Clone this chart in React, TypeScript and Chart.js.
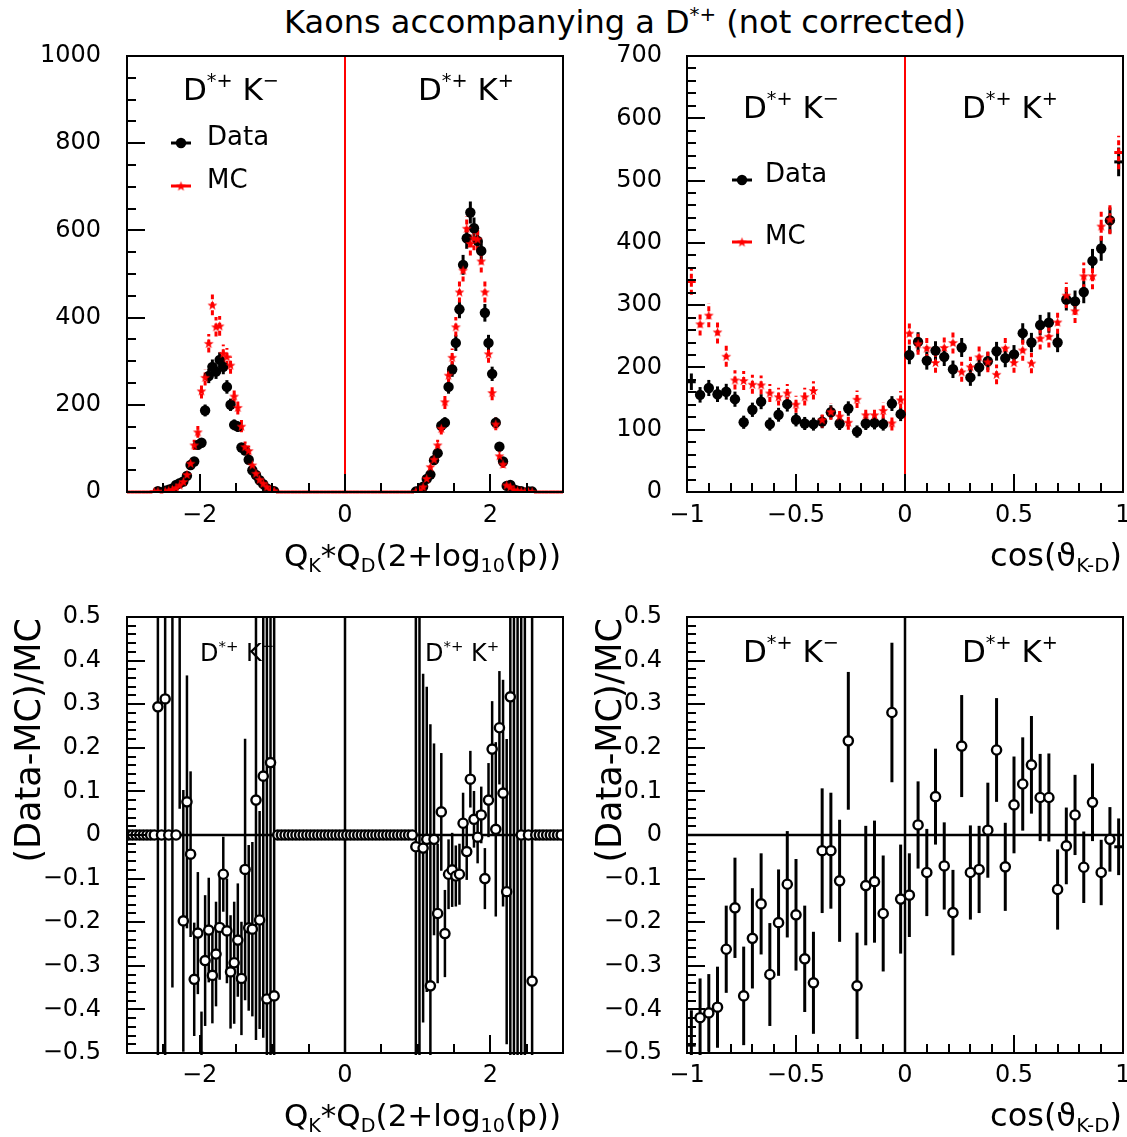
import React, { useEffect, useRef } from "react";
import { Chart, registerables } from "chart.js";

Chart.register(...registerables);

const FONT = "'DejaVu Sans', 'Liberation Sans', sans-serif";
const RED = "#ff0000";

// ---------- binning ----------
const qLow = -3;
const qWidth = 0.05; // 120 bins in Q_K*Q_D(2+log10(p))
const cosLow = -1;
const cosWidth = 0.04; // 50 bins in cos(theta_K-D)

// ---------- top-left : Q_K*Q_D(2+log10 p) ----------
const qData = [
  0, 0, 0, 0, 0, 0, 0, 0, 2, 0,
  3, 5, 8, 16, 20, 24, 37, 62, 70, 108,
  113, 187, 266, 287, 276, 303, 287, 241, 200, 154,
  150, 102, 95, 74, 50, 39, 27, 18, 8, 4,
  2, 0, 0, 0, 0, 0, 0, 0, 0, 0,
  0, 0, 0, 0, 0, 0, 0, 0, 0, 0,
  0, 0, 0, 0, 0, 0, 0, 0, 0, 0,
  0, 0, 0, 0, 0, 0, 0, 0, 0, 1,
  3, 12, 30, 40, 73, 89, 152, 159, 241, 281,
  342, 419, 521, 582, 641, 605, 576, 553, 411, 342,
  271, 159, 104, 70, 14, 16, 6, 3, 2, 0,
  1, 1, 0, 0, 0, 0, 0, 0, 0, 0,
];
const qMC = [
  0, 0, 0, 0, 0, 0, 0, 1, 2, 0,
  2, 4, 6, 10, 16, 24, 40, 66, 108, 138,
  232, 263, 341, 429, 379, 381, 318, 310, 291, 220,
  194, 151, 104, 95, 62, 43, 29, 20, 12, 5,
  3, 0, 0, 0, 0, 0, 0, 0, 0, 0,
  0, 0, 0, 0, 0, 0, 0, 0, 0, 0,
  0, 0, 0, 0, 0, 0, 0, 0, 0, 0,
  0, 0, 0, 0, 0, 0, 0, 0, 0, 1,
  4, 12, 31, 58, 75, 108, 146, 207, 268, 309,
  379, 459, 509, 605, 570, 582, 580, 530, 459, 317,
  228, 156, 83, 64, 16, 12, 5, 3, 2, 1,
  1, 1, 0, 0, 0, 0, 0, 0, 0, 0,
];
// ---------- bottom-left : (Data-MC)/MC vs Q ----------
const qRatio = [
  0, 0, 0, 0, 0, 0, 0, 0, 0.294, 0,
  0.312, 0, 0.8, 0, 0.7, -0.197, 0.076, -0.044, -0.331, -0.225,
  -0.51, -0.288, -0.218, -0.322, -0.273, -0.212, -0.09, -0.22, -0.314, -0.293,
  -0.241, -0.329, -0.079, -0.213, -0.216, 0.08, -0.195, 0.135, -0.376, 0.166,
  -0.369, 0, 0, 0, 0, 0, 0, 0, 0, 0,
  0, 0, 0, 0, 0, 0, 0, 0, 0, 0,
  0, 0, 0, 0, 0, 0, 0, 0, 0, 0,
  0, 0, 0, 0, 0, 0, 0, 0, 0, -0.027,
  0.6, -0.03, -0.01, -0.346, -0.01, -0.18, 0.053, -0.226, -0.09, -0.08,
  -0.094, -0.09, 0.027, -0.038, 0.128, 0.036, -0.005, 0.046, -0.1, 0.08,
  0.197, 0.013, 0.246, 0.096, -0.13, 0.317, 0.9, -0.7, 0, 1.0,
  0, -0.335, 0, 0, 0, 0, 0, 0, 0, 0,
];
const qRatioErr = [
  0, 0, 0, 0, 0, 0, 0, 0, 1.5, 0,
  1.5, 0, 1.15, 0, 0.64, 0.3, 0.29, 0.19, 0.13, 0.14,
  0.105, 0.15, 0.12, 0.11, 0.12, 0.12, 0.086, 0.12, 0.13, 0.14,
  0.13, 0.13, 0.3, 0.19, 0.2, 0.55, 0.25, 0.6, 1.0, 0.9,
  1.2, 0, 0, 0, 0, 0, 0, 0, 0, 0,
  0, 0, 0, 0, 0, 0, 0, 0, 0, 0,
  0, 0, 0, 0, 0, 0, 0, 0, 0, 0,
  0, 0, 0, 0, 0, 0, 0, 0, 0, 1.5,
  1.2, 0.4, 0.35, 0.6, 0.22, 0.16, 0.135, 0.1, 0.08, 0.085,
  0.07, 0.07, 0.07, 0.065, 0.065, 0.065, 0.06, 0.065, 0.07, 0.085,
  0.11, 0.2, 0.13, 0.26, 0.35, 0.9, 1.5, 1.3, 0.55, 1.6,
  0, 1.0, 0, 0, 0, 0, 0, 0, 0, 0,
];

// ---------- top-right : cos(theta_K-D) ----------
const cosData = [
  177, 156, 167, 157, 161, 149, 112, 132, 145, 109,
  124, 141, 116, 110, 109, 113, 128, 110, 134, 97,
  110, 111, 109, 142, 125, 220, 241, 211, 227, 217,
  197, 232, 184, 200, 210, 226, 215, 221, 255, 240,
  268, 272, 240, 309, 306, 321, 371, 391, 436, 530,
];
const cosMC = [
  338, 270, 284, 257, 218, 180, 179, 173, 172, 159,
  153, 159, 141, 153, 163, 116, 129, 122, 112, 149,
  124, 124, 131, 111, 148, 255, 238, 231, 208, 232,
  240, 193, 201, 217, 209, 189, 231, 208, 228, 207,
  247, 250, 273, 316, 291, 347, 347, 427, 438, 545,
];
// ---------- bottom-right : (Data-MC)/MC vs cos ----------
const cosRatio = [
  -0.482, -0.419, -0.408, -0.395, -0.262, -0.167, -0.369, -0.237, -0.158, -0.32,
  -0.201, -0.113, -0.183, -0.284, -0.339, -0.036, -0.036, -0.105, 0.216, -0.346,
  -0.116, -0.107, -0.18, 0.281, -0.147, -0.138, 0.023, -0.086, 0.088, -0.071,
  -0.178, 0.204, -0.086, -0.079, 0.011, 0.195, -0.073, 0.069, 0.117, 0.161,
  0.086, 0.086, -0.125, -0.025, 0.046, -0.074, 0.075, -0.086, -0.01, -0.027,
];
const cosRatioErr = [
  0.08, 0.09, 0.089, 0.093, 0.1, 0.115, 0.113, 0.115, 0.116, 0.118,
  0.122, 0.122, 0.128, 0.122, 0.117, 0.143, 0.133, 0.14, 0.158, 0.122,
  0.137, 0.14, 0.133, 0.16, 0.125, 0.096, 0.1, 0.1, 0.11, 0.1,
  0.098, 0.117, 0.108, 0.1, 0.109, 0.119, 0.101, 0.111, 0.107, 0.112,
  0.1, 0.101, 0.092, 0.088, 0.092, 0.082, 0.089, 0.075, 0.074, 0.065,
];

// MC statistical errors are a little larger than Poisson (weighted MC)
const mcErrScale = 1.15;

// ---------- tick labels ----------
const qTickLabels = [-2, 0, 2];
const cosTickLabels = [-1, -0.5, 0, 0.5, 1];
const countTickLabelsQ = [0, 200, 400, 600, 800, 1000];
const countTickLabelsCos = [0, 100, 200, 300, 400, 500, 600, 700];
const ratioTickLabels = [-0.5, -0.4, -0.3, -0.2, -0.1, 0, 0.1, 0.2, 0.3, 0.4, 0.5];

const rnd = (v: number) => Math.round(v * 1e6) / 1e6;
const qCenter = (i: number) => rnd(qLow + qWidth * (i + 0.5));
const cosCenter = (i: number) => rnd(cosLow + cosWidth * (i + 0.5));
const fmt = (v: number) => {
  const r = Math.round(v * 1000) / 1000;
  if (r === 0) return "0";
  return (r < 0 ? "\u2212" : "") + String(Math.abs(r));
};

type Part = { t: string; s?: "sup" | "sub" };

function richWidth(ctx: CanvasRenderingContext2D, parts: Part[], size: number) {
  let w = 0;
  for (const p of parts) {
    const fs = p.s ? size * 0.62 : size;
    ctx.font = `${fs}px ${FONT}`;
    w += ctx.measureText(p.t).width;
  }
  return w;
}
function drawRich(ctx: CanvasRenderingContext2D, parts: Part[], x: number, y: number, size: number, align: string) {
  const w = richWidth(ctx, parts, size);
  let cx = align === "right" ? x - w : align === "center" ? x - w / 2 : x;
  ctx.textBaseline = "alphabetic";
  ctx.textAlign = "left";
  for (const p of parts) {
    const fs = p.s ? size * 0.62 : size;
    ctx.font = `${fs}px ${FONT}`;
    const dy = p.s === "sup" ? -size * 0.42 : p.s === "sub" ? size * 0.2 : 0;
    ctx.fillText(p.t, cx, y + dy);
    cx += ctx.measureText(p.t).width;
  }
}

function starCanvas(outer: number, inner: number, color: string) {
  const s = Math.ceil(outer * 2 + 2);
  const c = document.createElement("canvas");
  c.width = s;
  c.height = s;
  const g = c.getContext("2d")!;
  g.fillStyle = color;
  g.beginPath();
  for (let k = 0; k < 10; k++) {
    const r = k % 2 === 0 ? outer : inner;
    const a = -Math.PI / 2 + (k * Math.PI) / 5;
    const px = s / 2 + r * Math.cos(a);
    const py = s / 2 + r * Math.sin(a) + 0.5;
    if (k === 0) g.moveTo(px, py);
    else g.lineTo(px, py);
  }
  g.closePath();
  g.fill();
  return c;
}

const DKm: Part[] = [{ t: "D" }, { t: "*+", s: "sup" }, { t: " K" }, { t: "\u2212", s: "sup" }];
const DKp: Part[] = [{ t: "D" }, { t: "*+", s: "sup" }, { t: " K" }, { t: "+", s: "sup" }];
const qTitle: Part[] = [
  { t: "Q" }, { t: "K", s: "sub" }, { t: "*Q" }, { t: "D", s: "sub" },
  { t: "(2+log" }, { t: "10", s: "sub" }, { t: "(p))" },
];
const cosTitle: Part[] = [{ t: "cos(\u03d1" }, { t: "K-D", s: "sub" }, { t: ")" }];
const ratioTitle: Part[] = [{ t: "(Data-MC)/MC" }];

type TextItem = { parts: Part[]; x: number; y: number; size: number; align: string; rot?: boolean };

function buildPanels(star: HTMLCanvasElement) {
  const qMCPoints = qMC.map((v, i) => ({
    x: qCenter(i), y: v, e: v > 0 ? mcErrScale * Math.sqrt(v) : 0, h: v === 0 ? qWidth / 2 : 0,
  }));
  const qDataPoints = qData
    .map((v, i) => ({ x: qCenter(i), y: v, e: Math.sqrt(v), h: 0 }))
    .filter((p) => p.y > 0);
  const cosEdge = (i: number) => i === 0 || i === cosMC.length - 1;
  const cosMCPoints = cosMC.map((v, i) => ({
    x: cosCenter(i), y: v, e: mcErrScale * Math.sqrt(v), h: cosEdge(i) ? cosWidth / 2 : 0,
  }));
  const cosDataPoints = cosData.map((v, i) => ({
    x: cosCenter(i), y: v, e: Math.sqrt(v), h: cosEdge(i) ? cosWidth / 2 : 0,
  }));
  const qRatioPoints = qRatio.map((v, i) => ({ x: qCenter(i), y: v, e: qRatioErr[i], h: 0 }));
  const cosRatioPoints = cosRatio.map((v, i) => ({
    x: cosCenter(i), y: v, e: cosRatioErr[i], h: cosEdge(i) ? cosWidth / 2 : 0,
  }));

  const mcDs = (data: any[]) => ({
    label: "MC",
    data,
    order: 0,
    pointStyle: star,
    pointRadius: (c: any) => (c.raw && c.raw.y !== 0 && c.raw.h === 0 ? 5 : 0),
    backgroundColor: RED,
    borderColor: RED,
    errColor: RED,
    errWidth: 3,
    errDash: [5, 3],
  });
  const dataDs = (data: any[]) => ({
    label: "Data",
    data,
    order: 1,
    pointStyle: "circle",
    pointRadius: (c: any) => (c.raw && c.raw.h === 0 ? 5.2 : 0),
    pointBackgroundColor: "#000",
    pointBorderColor: "#000",
    pointBorderWidth: 0,
    errColor: "#000",
    errWidth: 3,
    errDash: [],
  });
  const ratioDs = (data: any[], w: number) => ({
    label: "ratio",
    data,
    order: 0,
    clip: 0,
    pointStyle: "circle",
    pointRadius: (c: any) => (c.raw && c.raw.h === 0 ? 4.6 : 0),
    pointBackgroundColor: "#fff",
    pointBorderColor: "#000",
    pointBorderWidth: 2.4,
    errColor: "#000",
    errWidth: w,
    errDash: [],
  });

  return [
    {
      name: "tl", cx: 0, cy: 0, cw: 566, ch: 600,
      area: { l: 127, t: 56, r: 563, b: 492 },
      xr: [-3, 3], yr: [0, 1000],
      xLabels: qTickLabels, yLabels: countTickLabelsQ, xMinor: 0.5, yMinor: 50,
      xPad: 9, yPad: 26,
      zeroV: RED, zeroVW: 2, zeroH: null,
      datasets: [mcDs(qMCPoints), dataDs(qDataPoints)],
      texts: [
        { parts: DKm, x: 183, y: 100, size: 31, align: "left" },
        { parts: DKp, x: 418, y: 100, size: 31, align: "left" },
        { parts: [{ t: "Data" }], x: 207, y: 145, size: 26, align: "left" },
        { parts: [{ t: "MC" }], x: 207, y: 188, size: 26, align: "left" },
        { parts: qTitle, x: 561, y: 566, size: 31, align: "right" },
      ] as TextItem[],
      legend: [
        { kind: "circle", x: 181, y: 143 },
        { kind: "star", x: 181, y: 186 },
      ],
    },
    {
      name: "tr", cx: 566, cy: 0, cw: 561, ch: 600,
      area: { l: 687, t: 56, r: 1123, b: 492 },
      xr: [-1, 1], yr: [0, 700],
      xLabels: cosTickLabels, yLabels: countTickLabelsCos, xMinor: 0.1, yMinor: 20,
      xPad: 9, yPad: 25,
      zeroV: RED, zeroVW: 2, zeroH: null,
      datasets: [mcDs(cosMCPoints), dataDs(cosDataPoints)],
      texts: [
        { parts: DKm, x: 743, y: 118, size: 31, align: "left" },
        { parts: DKp, x: 962, y: 118, size: 31, align: "left" },
        { parts: [{ t: "Data" }], x: 765, y: 182, size: 26, align: "left" },
        { parts: [{ t: "MC" }], x: 765, y: 244, size: 26, align: "left" },
        { parts: cosTitle, x: 1122, y: 566, size: 32, align: "right" },
      ] as TextItem[],
      legend: [
        { kind: "circle", x: 742, y: 180 },
        { kind: "star", x: 742, y: 242 },
      ],
    },
    {
      name: "bl", cx: 0, cy: 600, cw: 566, ch: 537,
      area: { l: 127, t: 617, r: 563, b: 1053 },
      xr: [-3, 3], yr: [-0.5, 0.5],
      xLabels: qTickLabels, yLabels: ratioTickLabels, xMinor: 0.5, yMinor: 0.02,
      xPad: 8, yPad: 26,
      zeroV: "#000", zeroVW: 2.5, zeroH: "#000",
      datasets: [ratioDs(qRatioPoints, 2.5)],
      texts: [
        { parts: DKm, x: 200, y: 661, size: 24, align: "left" },
        { parts: DKp, x: 425, y: 661, size: 24, align: "left" },
        { parts: qTitle, x: 561, y: 1126, size: 31, align: "right" },
        { parts: ratioTitle, x: 40, y: 618, size: 35, align: "right", rot: true },
      ] as TextItem[],
      legend: [],
    },
    {
      name: "br", cx: 566, cy: 600, cw: 561, ch: 537,
      area: { l: 687, t: 617, r: 1123, b: 1053 },
      xr: [-1, 1], yr: [-0.5, 0.5],
      xLabels: cosTickLabels, yLabels: ratioTickLabels, xMinor: 0.1, yMinor: 0.02,
      xPad: 8, yPad: 25,
      zeroV: "#000", zeroVW: 2.5, zeroH: "#000",
      datasets: [ratioDs(cosRatioPoints, 3)],
      texts: [
        { parts: DKm, x: 743, y: 662, size: 31, align: "left" },
        { parts: DKp, x: 962, y: 662, size: 31, align: "left" },
        { parts: cosTitle, x: 1122, y: 1126, size: 32, align: "right" },
        { parts: ratioTitle, x: 621, y: 618, size: 35, align: "right", rot: true },
      ] as TextItem[],
      legend: [],
    },
  ];
}

function decorPlugin(p: any, star: HTMLCanvasElement) {
  return {
    id: "decor_" + p.name,
    beforeDatasetsDraw(chart: any) {
      const ctx: CanvasRenderingContext2D = chart.ctx;
      const a = chart.chartArea;
      const xs = chart.scales.x;
      const ys = chart.scales.y;
      ctx.save();
      ctx.beginPath();
      ctx.rect(a.left, a.top, a.right - a.left, a.bottom - a.top + 2);
      ctx.clip();
      ctx.setLineDash([]);
      if (p.zeroH) {
        const py = Math.round(ys.getPixelForValue(0));
        ctx.strokeStyle = p.zeroH;
        ctx.lineWidth = 2.5;
        ctx.beginPath();
        ctx.moveTo(a.left, py);
        ctx.lineTo(a.right, py);
        ctx.stroke();
      }
      if (p.zeroV) {
        const px = Math.round(xs.getPixelForValue(0));
        ctx.strokeStyle = p.zeroV;
        ctx.lineWidth = p.zeroVW;
        ctx.beginPath();
        ctx.moveTo(px, a.top);
        ctx.lineTo(px, a.bottom);
        ctx.stroke();
      }
      const order = chart.data.datasets.map((_: any, i: number) => i).reverse();
      for (const di of order) {
        const ds = chart.data.datasets[di];
        ctx.strokeStyle = ds.errColor;
        ctx.lineWidth = ds.errWidth;
        for (const pt of ds.data) {
          const px = xs.getPixelForValue(pt.x);
          if (pt.e > 0) {
            ctx.setLineDash(ds.errDash);
            ctx.beginPath();
            ctx.moveTo(px, ys.getPixelForValue(pt.y - pt.e));
            ctx.lineTo(px, ys.getPixelForValue(pt.y + pt.e));
            ctx.stroke();
          }
          if (pt.h > 0) {
            ctx.setLineDash([]);
            const py = ys.getPixelForValue(pt.y);
            ctx.beginPath();
            ctx.moveTo(xs.getPixelForValue(pt.x - pt.h), py);
            ctx.lineTo(xs.getPixelForValue(pt.x + pt.h), py);
            ctx.stroke();
          }
        }
      }
      ctx.restore();
    },
    afterDatasetsDraw(chart: any) {
      const ctx: CanvasRenderingContext2D = chart.ctx;
      const a = chart.chartArea;
      const xs = chart.scales.x;
      const ys = chart.scales.y;
      ctx.save();
      ctx.setLineDash([]);
      ctx.strokeStyle = "#000";
      ctx.lineWidth = 2;
      ctx.strokeRect(a.left, a.top, a.right - a.left, a.bottom - a.top);
      const nx = Math.round((p.xr[1] - p.xr[0]) / p.xMinor);
      for (let k = 0; k <= nx; k++) {
        const v = rnd(p.xr[0] + k * p.xMinor);
        const major = p.xLabels.some((m: number) => Math.abs(m - v) < 1e-6);
        const len = major ? 18 : 9;
        const px = Math.round(xs.getPixelForValue(v));
        ctx.beginPath();
        ctx.moveTo(px, a.bottom);
        ctx.lineTo(px, a.bottom - len);
        ctx.stroke();
      }
      const ny = Math.round((p.yr[1] - p.yr[0]) / p.yMinor);
      for (let k = 0; k <= ny; k++) {
        const v = rnd(p.yr[0] + k * p.yMinor);
        const major = p.yLabels.some((m: number) => Math.abs(m - v) < 1e-6);
        const len = major ? 18 : 9;
        const py = Math.round(ys.getPixelForValue(v));
        ctx.beginPath();
        ctx.moveTo(a.left, py);
        ctx.lineTo(a.left + len, py);
        ctx.stroke();
      }
      for (const L of p.legend) {
        const x = L.x - p.cx;
        const y = L.y - p.cy;
        ctx.lineWidth = 3;
        ctx.strokeStyle = L.kind === "star" ? RED : "#000";
        ctx.beginPath();
        ctx.moveTo(x - 10, y);
        ctx.lineTo(x + 10, y);
        ctx.stroke();
        if (L.kind === "star") {
          ctx.drawImage(star, x - star.width / 2, y - star.height / 2);
        } else {
          ctx.fillStyle = "#000";
          ctx.beginPath();
          ctx.arc(x, y, 5.2, 0, Math.PI * 2);
          ctx.fill();
        }
      }
      ctx.fillStyle = "#000";
      for (const T of p.texts) {
        if (T.rot) {
          ctx.save();
          ctx.translate(T.x - p.cx, T.y - p.cy);
          ctx.rotate(-Math.PI / 2);
          drawRich(ctx, T.parts, 0, 0, T.size, T.align);
          ctx.restore();
        } else {
          drawRich(ctx, T.parts, T.x - p.cx, T.y - p.cy, T.size, T.align);
        }
      }
      ctx.restore();
    },
  };
}

function makeChart(canvas: HTMLCanvasElement, p: any, star: HTMLCanvasElement) {
  const yWidth = p.area.l - p.cx;
  const xHeight = p.cy + p.ch - p.area.b;
  const tickFont = { family: FONT, size: 24 };
  return new Chart(canvas, {
    type: "scatter",
    data: { datasets: p.datasets },
    options: {
      responsive: false,
      animation: false,
      devicePixelRatio: 1,
      events: [],
      layout: {
        autoPadding: false,
        padding: { left: 0, top: p.area.t - p.cy, right: p.cx + p.cw - p.area.r, bottom: 0 },
      },
      plugins: { legend: { display: false }, tooltip: { enabled: false }, title: { display: false } },
      scales: {
        x: {
          type: "linear",
          min: p.xr[0],
          max: p.xr[1],
          afterBuildTicks: (s: any) => {
            s.ticks = p.xLabels.map((v: number) => ({ value: v }));
          },
          afterFit: (s: any) => {
            s.height = xHeight;
            s.paddingLeft = 0;
            s.paddingRight = 0;
          },
          ticks: {
            callback: (v: any) => fmt(Number(v)),
            font: tickFont,
            color: "#000",
            padding: p.xPad,
            maxRotation: 0,
            minRotation: 0,
            autoSkip: false,
          },
          grid: { display: false, drawTicks: false },
          border: { display: false },
        },
        y: {
          type: "linear",
          min: p.yr[0],
          max: p.yr[1],
          afterBuildTicks: (s: any) => {
            s.ticks = p.yLabels.map((v: number) => ({ value: v }));
          },
          afterFit: (s: any) => {
            s.width = yWidth;
            s.paddingTop = 0;
            s.paddingBottom = 0;
          },
          ticks: {
            callback: (v: any) => fmt(Number(v)),
            font: tickFont,
            color: "#000",
            padding: p.yPad,
            autoSkip: false,
          },
          grid: { display: false, drawTicks: false },
          border: { display: false },
        },
      },
    } as any,
    plugins: [decorPlugin(p, star)],
  });
}

export default function App() {
  const r0 = useRef<HTMLCanvasElement>(null);
  const r1 = useRef<HTMLCanvasElement>(null);
  const r2 = useRef<HTMLCanvasElement>(null);
  const r3 = useRef<HTMLCanvasElement>(null);
  const refs = [r0, r1, r2, r3];
  const geo = [
    { cx: 0, cy: 0, cw: 566, ch: 600 },
    { cx: 566, cy: 0, cw: 561, ch: 600 },
    { cx: 0, cy: 600, cw: 566, ch: 537 },
    { cx: 566, cy: 600, cw: 561, ch: 537 },
  ];

  useEffect(() => {
    const star = starCanvas(5.2, 2.1, RED);
    const panels = buildPanels(star);
    const charts = panels.map((p, i) => makeChart(refs[i].current!, p, star));
    return () => charts.forEach((c) => c.destroy());
  }, []);

  return (
    <div
      style={{
        position: "absolute",
        left: 0,
        top: 0,
        width: 1127,
        height: 1137,
        background: "#fff",
        overflow: "hidden",
      }}
    >
      <div
        style={{
          position: "absolute",
          left: 0,
          top: 4,
          width: 1250,
          textAlign: "center",
          fontFamily: FONT,
          fontSize: 32,
          lineHeight: "36px",
          color: "#000",
          whiteSpace: "nowrap",
        }}
      >
        Kaons accompanying a D
        <sup style={{ fontSize: "0.62em", lineHeight: 0, verticalAlign: "0.6em" }}>*+</sup> (not corrected)
      </div>
      {geo.map((g, i) => (
        <canvas
          key={i}
          ref={refs[i]}
          width={g.cw}
          height={g.ch}
          style={{ position: "absolute", left: g.cx, top: g.cy, width: g.cw, height: g.ch }}
        />
      ))}
    </div>
  );
}
